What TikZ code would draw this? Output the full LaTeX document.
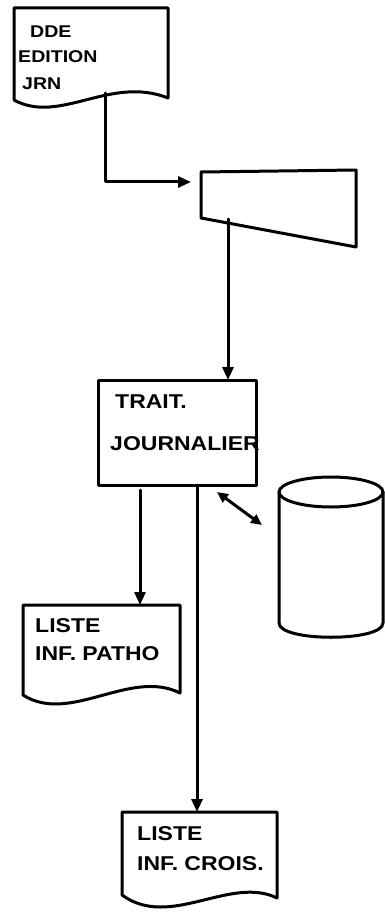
\documentclass[tikz,border=0pt]{standalone}
\usepackage{fontspec}
\setmainfont{Liberation Sans}
\usetikzlibrary{arrows.meta}
\begin{document}
\begin{tikzpicture}[x=1pt,y=-1pt,
  ln/.style={line width=3pt, line join=round, line cap=round},
  flow/.style={ln, -{Triangle[length=13pt,width=11pt]}},
  dflow/.style={ln, {Triangle[length=11pt,width=10pt]}-{Triangle[length=11pt,width=10pt]}},
  frame/.style={inner sep=0pt, outer sep=0pt},
  boxstyle/.style={draw, ln, inner sep=0pt, outer sep=0pt},
  lab/.style={anchor=base west, inner sep=0pt, xscale=1.15, font=\bfseries\fontsize{20}{20}\selectfont},
  labs/.style={anchor=base west, inner sep=0pt, xscale=1.15, font=\bfseries\fontsize{17}{17}\selectfont}]
\useasboundingbox (0,0) rectangle (385,920);
\fill[white] (0,0) rectangle (385,920);

% document DDE
\node[frame, minimum width=154pt, minimum height=92pt] (dde) at (91,54) {};
\draw[ln] (dde.south west) -- (dde.north west) -- (dde.north east) -- (168,98)
  .. controls (110,75) and (60,125) .. (dde.south west);
\node[labs] (t1) at (30,38) {DDE};
\node[labs] (t2) at (18,63) {EDITION};
\node[labs] (t3) at (22,90) {JRN};

% manual input
\node[frame, minimum width=155pt, minimum height=77pt] (inp) at (278.5,208.5) {};
\draw[ln] (201,172) -- (356,170) -- (356,247) -- (201,218) -- cycle;
\coordinate (ddeout) at (105,93);
\coordinate (inpin) at (191,182);
\draw[flow] (ddeout) |- (inpin);

% processing box
\node[boxstyle, minimum width=158pt, minimum height=105pt] (trait) at (177,432.5) {};
\node[lab] (t4) at (115,408) {TRAIT.};
\node[lab] (t5) at (110,450) {JOURNALIER};
\coordinate (inpout) at (228,219);
\draw[flow] (inpout) -- (inpout |- trait.north);

% database cylinder
\node[frame, minimum width=104pt, minimum height=160pt] (db) at (331,557) {};
\draw[ln] (279,492) -- (279,623) .. controls (279,642) and (383,642) .. (383,623) -- (383,492);
\draw[ln] (331,492) ellipse [x radius=52pt, y radius=15pt];
\coordinate (da1) at (217,492);
\coordinate (da2) at (262,525);
\draw[dflow] (da1) -- (da2);

% document PATHO
\node[frame, minimum width=157pt, minimum height=90pt] (patho) at (101.5,650) {};
\draw[ln] (patho.south west) -- (patho.north west) -- (patho.north east) -- (180,693)
  .. controls (130,668) and (70,725) .. (patho.south west);
\node[lab] (t6) at (35,632) {LISTE};
\node[lab] (t7) at (35,660) {INF. PATHO};
\coordinate (p1) at (140,490);
\draw[flow] (p1) -- (p1 |- patho.north);

% document CROIS
\node[frame, minimum width=155pt, minimum height=83pt] (crois) at (199.5,853.5) {};
\draw[ln] (crois.south west) -- (crois.north west) -- (crois.north east) -- (277,898)
  .. controls (230,875) and (170,930) .. (crois.south west);
\node[lab] (t8) at (137,840) {LISTE};
\node[lab] (t9) at (137,870) {INF. CROIS.};
\coordinate (c1) at (197,485);
\draw[flow] (c1) -- (c1 |- crois.north);
\end{tikzpicture}
\end{document}
